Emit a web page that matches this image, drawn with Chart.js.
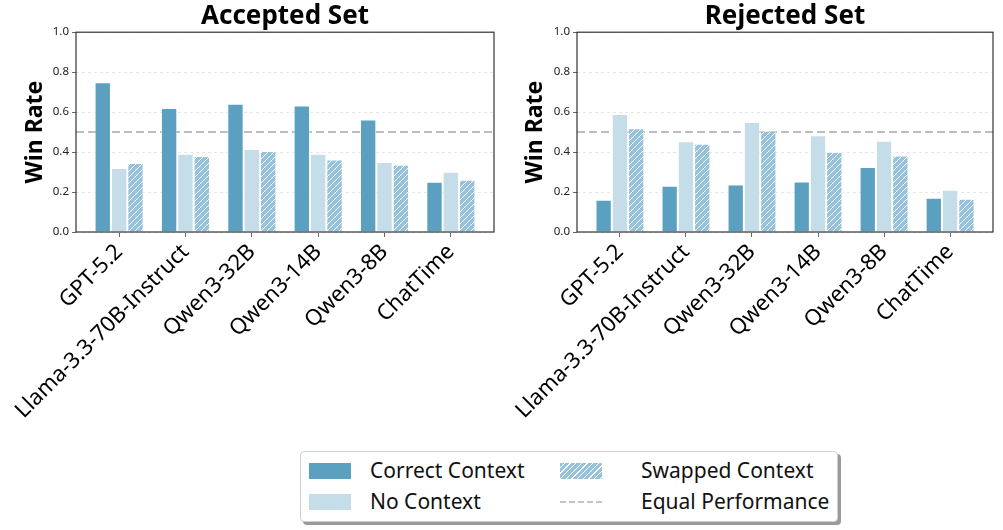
<!DOCTYPE html>
<html>
<head>
<meta charset="utf-8">
<script src="https://cdn.jsdelivr.net/npm/chart.js@4.4.0/dist/chart.umd.min.js"></script>
<style>
  body { margin: 0; background: #fff; font-family: "Noto Sans", sans-serif; }
  #wrap { position: relative; width: 1003px; height: 530px; overflow: hidden; }
  .panel { position: absolute; top: 0; }
  #legend {
    position: absolute; left: 300px; top: 451px; width: 536px; height: 69px;
    border: 1px solid #cfcfcf; border-radius: 4px; background: #fff;
    box-shadow: 3px 3px 0 #9a9a9a;
  }
  .item { position: absolute; font-size: 21px; color: #111; line-height: 24px; }
  .sw { position: absolute; width: 42px; height: 16px; }
</style>
</head>
<body>
<div id="wrap">
  <div class="panel" style="left:0"><canvas id="accepted" width="500" height="440"></canvas></div>
  <div class="panel" style="left:500px"><canvas id="rejected" width="503" height="440"></canvas></div>
  <div id="legend">
    <div class="sw" style="left:8px;top:11px;background:#5ba0c1"></div>
    <div class="item" style="left:69px;top:6px">Correct Context</div>
    <div class="sw" style="left:8px;top:42px;background:#c5dde9"></div>
    <div class="item" style="left:69px;top:37px">No Context</div>
    <div class="sw" style="left:259px;top:11px;background:repeating-linear-gradient(135deg,#96c2da 0 3px,#fff 3px 4px)"></div>
    <div class="item" style="left:340px;top:6px">Swapped Context</div>
    <div class="sw" style="left:259px;top:49px;height:0;border-top:2px dashed #c4c4c4"></div>
    <div class="item" style="left:340px;top:37px">Equal Performance</div>
  </div>
</div>
<script>
const categories = ['GPT-5.2', 'Llama-3.3-70B-Instruct', 'Qwen3-32B', 'Qwen3-14B', 'Qwen3-8B', 'ChatTime'];

const acceptedCorrect = [0.75, 0.62, 0.642, 0.633, 0.563, 0.251];
const acceptedNone    = [0.32, 0.392, 0.415, 0.392, 0.35, 0.301];
const acceptedSwapped = [0.345, 0.38, 0.405, 0.363, 0.337, 0.261];

const rejectedCorrect = [0.161, 0.231, 0.238, 0.253, 0.325, 0.171];
const rejectedNone    = [0.591, 0.454, 0.551, 0.484, 0.457, 0.211];
const rejectedSwapped = [0.519, 0.442, 0.507, 0.40, 0.383, 0.166];

const yTicks = [0, 0.2, 0.4, 0.6, 0.8, 1.0];
const equalLevel = 0.5;

const FONT = '"Noto Sans", sans-serif';
const X_MIN = -0.65, X_MAX = 5.65;

function hatch() {
    const c = document.createElement('canvas');
    c.width = 6; c.height = 6;
    const g = c.getContext('2d');
    g.fillStyle = '#96c2da';
    g.fillRect(0, 0, 6, 6);
    g.strokeStyle = 'rgba(255,255,255,0.95)';
    g.lineWidth = 1;
    g.beginPath();
    g.moveTo(-1, 7); g.lineTo(7, -1);
    g.moveTo(-1, 1); g.lineTo(1, -1);
    g.moveTo(5, 7); g.lineTo(7, 5);
    g.stroke();
    return g.createPattern(c, 'repeat');
}

function points(values) {
    return values.map((v, i) => ({x: i, y: v}));
}

// box around the plot area, like the matplotlib spines
const frame = {
    id: 'frame',
    afterDraw(chart) {
        const a = chart.chartArea;
        const ctx = chart.ctx;
        ctx.save();
        ctx.strokeStyle = '#333';
        ctx.lineWidth = 1.2;
        ctx.strokeRect(a.left, a.top, a.right - a.left, a.bottom - a.top);
        ctx.restore();
    }
};

function drawPanel(id, title, correct, none, swapped, yWidth, padRight) {
    const ctx = document.getElementById(id);
    new Chart(ctx, {
        type: 'bar',
        data: {
            datasets: [
                {
                    label: 'Correct Context',
                    data: points(correct),
                    backgroundColor: '#5ba0c1',
                    borderColor: 'rgba(255,255,255,0.45)',
                    borderWidth: 1,
                    order: 0
                },
                {
                    label: 'No Context',
                    data: points(none),
                    backgroundColor: '#c5dde9',
                    borderColor: 'rgba(255,255,255,0.45)',
                    borderWidth: 1,
                    order: 0
                },
                {
                    label: 'Swapped Context',
                    data: points(swapped),
                    backgroundColor: hatch(),
                    borderColor: 'rgba(255,255,255,0.45)',
                    borderWidth: 1,
                    order: 0
                },
                {
                    type: 'line',
                    label: 'Equal Performance',
                    data: [{x: X_MIN, y: equalLevel}, {x: X_MAX, y: equalLevel}],
                    borderColor: '#bdbdbd',
                    borderWidth: 2,
                    borderDash: [8, 4],
                    pointRadius: 0,
                    order: 10
                }
            ]
        },
        options: {
            responsive: false,
            animation: false,
            layout: { padding: { left: 0, right: padRight, top: 0, bottom: 0 } },
            datasets: { bar: { categoryPercentage: 0.74, barPercentage: 1 } },
            plugins: {
                legend: { display: false },
                tooltip: { enabled: false },
                title: {
                    display: true,
                    text: title,
                    fullSize: false,
                    color: '#000',
                    font: { family: FONT, size: 26, weight: 'bold', lineHeight: 1.2 },
                    padding: { top: 1, bottom: 0 }
                }
            },
            scales: {
                x: {
                    type: 'linear',
                    min: X_MIN,
                    max: X_MAX,
                    offset: false,
                    afterBuildTicks: s => { s.ticks = categories.map((c, i) => ({value: i})); },
                    afterFit: s => { s.height = 208; s.paddingLeft = 0; s.paddingRight = 0; },
                    ticks: {
                        callback: (v, i) => categories[i],
                        minRotation: 45,
                        maxRotation: 45,
                        autoSkip: false,
                        color: '#000',
                        padding: 2,
                        font: { family: FONT, size: 22 }
                    },
                    grid: { offset: false, drawOnChartArea: false, drawTicks: true, tickLength: 5, tickColor: '#666' },
                    border: { display: false }
                },
                y: {
                    min: 0,
                    max: 1,
                    afterBuildTicks: s => { s.ticks = yTicks.map(v => ({value: v})); },
                    afterFit: s => { s.width = yWidth; },
                    ticks: {
                        callback: v => v.toFixed(1),
                        color: '#222',
                        padding: 3,
                        font: { family: FONT, size: 11.5 }
                    },
                    grid: {
                        color: '#e6e6e6',
                        lineWidth: 1,
                        tickColor: '#666',
                        tickLength: 4
                    },
                    border: { display: false, dash: [3, 3] },
                    title: {
                        display: true,
                        text: 'Win Rate',
                        color: '#000',
                        font: { family: FONT, size: 23, weight: 'bold' },
                        padding: { top: 22, bottom: 0 }
                    }
                }
            }
        },
        plugins: [frame]
    });
}

drawPanel('accepted', 'Accepted Set', acceptedCorrect, acceptedNone, acceptedSwapped, 76, 6);
drawPanel('rejected', 'Rejected Set', rejectedCorrect, rejectedNone, rejectedSwapped, 77, 10);
</script>
</body>
</html>
